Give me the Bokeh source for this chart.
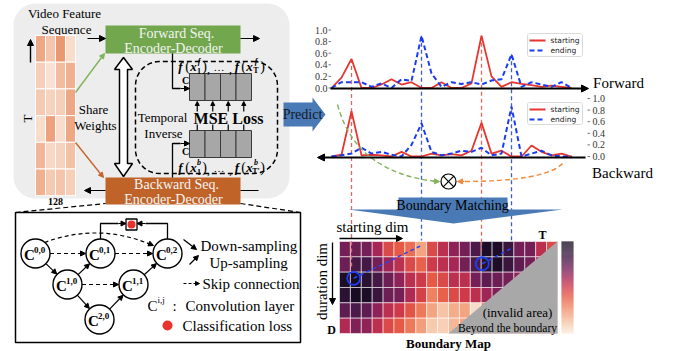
import numpy as np
from bokeh.plotting import figure
from bokeh.models import Range1d, Arrow, NormalHead, ColumnDataSource, LinearColorMapper
from bokeh.core.properties import value
from bokeh.embed import file_html
from bokeh.resources import INLINE

# ---------------- data ----------------
steps = list(range(25))
fwd_starting = [0, 0.18, 0.5, 0, 0, 0.06, 0.15, 0.06, 0.1, 0, 0, 0.1, 0, 0, 0.08,
                0.9, 0.2, 0.02, 0.1, 0.07, 0.05, 0.02, 0.04, 0.02, 0]
fwd_ending = [0, 0.1, 0.1, 0.1, 0.02, 0.08, 0.0, 0.15, 0.12, 0.9, 0.25, 0.02, 0.1,
              0.07, 0.1, 0.06, 0.13, 0.15, 0.58, 0.02, 0.1, 0.06, 0.02, 0.1, 0]
bwd_starting = [0, 0.03, 0.78, 0.02, 0.03, 0.02, 0.0, 0.08, 0.0, 0.0, 0.05, 0.02,
                0.04, 0.02, 0.1, 0.58, 0.05, 0.1, 0.0, 0.0, 0.19, 0.08, 0.02, 0.05, 0]
bwd_ending = [0, 0.02, 0.05, 0.15, 0.05, 0.08, 0.03, 0.0, 0.2, 0.57, 0.08, 0.02,
              0.05, 0.1, 0.08, 0.15, 0.02, 0.05, 0.86, 0.0, 0.05, 0.1, 0.02, 0.0, 0]
y_ticks = [0.0, 0.2, 0.4, 0.6, 0.8, 1.0]
y_tick_labels = ["0.0", "0.2", "0.4", "0.6", "0.8", "1.0"]

boundary_map = [
    [0.70, 0.72, 0.70, 0.60, 0.45, 0.40, 0.35, 0.20, 0.45, 0.55, 0.65, 0.70, 0.80, 0.95, 0.95, 0.85, 0.70, 0.70, 0.55, 0.45],
    [0.72, 0.82, 0.82, 0.70, 0.62, 0.55, 0.45, 0.38, 0.50, 0.55, 0.60, 0.70, 0.80, 0.90, 0.95, 0.85, 0.75, 0.70, 0.60, 0.50],
    [0.95, 0.97, 0.90, 0.82, 0.72, 0.65, 0.55, 0.50, 0.40, 0.45, 0.55, 0.55, 0.70, 0.75, 0.72, 0.70, 0.65, 0.60, 0.55, 0.50],
    [0.90, 0.97, 0.95, 0.85, 0.72, 0.70, 0.58, 0.48, 0.30, 0.38, 0.45, 0.50, 0.55, 0.62, 0.68, 0.65, 0.60, 0.55, 0.50, 0.45],
    [0.75, 0.80, 0.75, 0.65, 0.55, 0.50, 0.42, 0.32, 0.20, 0.12, 0.18, 0.20, 0.05, 0.30, 0.40, 0.45, 0.50, 0.50, 0.45, 0.40],
    [0.58, 0.68, 0.65, 0.55, 0.45, 0.40, 0.32, 0.22, 0.10, 0.08, 0.15, 0.20, 0.25, 0.30, 0.35, 0.40, 0.40, 0.40, 0.40, 0.40],
]
matched_cells = [(1.3, 2.4), (13.1, 1.45)]          # (starting col, duration row)
matched_targets = [(7.4, 0.3), (15.9, 0.4)]

video_features = [
    [0.70, 0.40, 0.85, 0.15],
    [0.30, 0.10, 0.50, 0.60],
    [0.35, 0.25, 0.30, 0.70],
    [0.15, 0.75, 0.15, 0.70],
    [0.55, 0.20, 0.25, 0.45],
    [0.60, 0.35, 0.40, 0.30],
]

# ---------------- helpers ----------------
SERIF = value("Liberation Serif")
SANS = value("DejaVu Sans")


def interp_palette(anchors, n=256):
    pos = np.array([a[0] for a in anchors])
    rgb = np.array([[int(a[1][i:i + 2], 16) for i in (1, 3, 5)] for a in anchors], float)
    out = []
    for t in np.linspace(0, 1, n):
        c = [np.interp(t, pos, rgb[:, k]) for k in range(3)]
        out.append("#%02x%02x%02x" % tuple(int(round(v)) for v in c))
    return out


rocket = interp_palette([
    (0.00, "#FAEBDD"), (0.10, "#F6C9AC"), (0.20, "#F3A582"), (0.30, "#EF8060"),
    (0.40, "#E65A45"), (0.50, "#CF3A4A"), (0.60, "#A82655"), (0.70, "#761F57"),
    (0.80, "#4B1A4B"), (0.90, "#2A1233"), (1.00, "#12091A")])
peach = interp_palette([(0.0, "#FBEBE1"), (0.5, "#F2BC9E"), (1.0, "#E8875E")])

W, H = 673, 351
p = figure(width=W, height=H, x_range=Range1d(0, W), y_range=Range1d(H, 0),
           output_backend="svg", toolbar_location=None, x_axis_location=None,
           y_axis_location=None, min_border=0, outline_line_color=None)
p.grid.visible = False

# scales: plot index -> px, values -> px, heatmap cells -> px
PX0, PXS = 331.0, 10.0
FY0, FYS = 87.5, 58.0
BY0, BYS = 156.0, 58.0
HX0, HXS = 339.0, 10.9
HY0, HYS = 241.0, 15.33
VX0, VXS = 35.0, 10.0
VY0, VYS = 35.0, 26.7
p.extra_x_ranges = {
    "px": Range1d((0 - PX0) / PXS, (W - PX0) / PXS),
    "hx": Range1d((0 - HX0) / HXS, (W - HX0) / HXS),
    "vx": Range1d((0 - VX0) / VXS, (W - VX0) / VXS),
}
p.extra_y_ranges = {
    "fy": Range1d((FY0 - H) / FYS, (FY0 - 0) / FYS),
    "by": Range1d((BY0 - H) / BYS, (BY0 - 0) / BYS),
    "hy": Range1d((H - HY0) / HYS, (0 - HY0) / HYS),
    "vy": Range1d((H - VY0) / VYS, (0 - VY0) / VYS),
}


def txt(x, y, s, size=13, font=SERIF, style="normal", color="black",
        align="center", baseline="middle", angle=0.0):
    p.text(x=[x], y=[y], text=[s], text_font=font, text_font_size=f"{size}px",
           text_font_style=style, text_color=color, text_align=align,
           text_baseline=baseline, angle=angle)


def arrow(x0, y0, x1, y1, color="black", w=1.2, size=6, dash="solid"):
    head = NormalHead(size=size, fill_color=color, line_color=color, line_width=1)
    p.add_layout(Arrow(end=head, x_start=x0, y_start=y0, x_end=x1, y_end=y1,
                       line_color=color, line_width=w, line_dash=dash))


def rrect(x0, y0, x1, y1, r, n=12):
    xs, ys = [], []
    for cx, cy, a0, a1 in [(x1 - r, y0 + r, -90, 0), (x1 - r, y1 - r, 0, 90),
                           (x0 + r, y1 - r, 90, 180), (x0 + r, y0 + r, 180, 270)]:
        for a in np.radians(np.linspace(a0, a1, n)):
            xs.append(cx + r * np.cos(a))
            ys.append(cy + r * np.sin(a))
    return xs, ys


# ---------------- left panel ----------------
gx, gy = rrect(13, 3, 289, 198, 22)
p.patch(gx, gy, fill_color="#EDEDED", line_color=None)

txt(64, 13, "Video Feature", 13)
txt(66, 29, "Sequence", 13)

# feature column
fsrc = ColumnDataSource(dict(
    x=[c + 0.5 for r in range(6) for c in range(4)],
    y=[r + 0.5 for r in range(6) for c in range(4)],
    v=[video_features[r][c] for r in range(6) for c in range(4)]))
fmap = LinearColorMapper(palette=peach, low=0, high=1)
p.rect(x="x", y="y", width=1, height=1, source=fsrc, x_range_name="vx", y_range_name="vy",
       fill_color={"field": "v", "transform": fmap}, line_color="white", line_width=1)
arrow(30, 62, 30, 39, size=6, w=1.4)
txt(27, 118, "T", 13, angle=np.pi / 2)
txt(55, 201, "128", 10, style="bold")

# encoder boxes
p.quad(left=105, right=240, top=25, bottom=53, fill_color="#72A74E", line_color=None)
txt(176, 33, "Forward Seq.", 14, color="#F4F4F4")
txt(173, 48, "Encoder-Decoder", 14, color="#F4F4F4")
p.quad(left=105, right=240, top=177, bottom=204, fill_color="#BF6328", line_color=None)
txt(176, 184, "Backward Seq.", 14, color="#F4F4F4")
txt(173, 199, "Encoder-Decoder", 14, color="#F4F4F4")
arrow(87, 38, 105, 38, size=6)
arrow(240, 38, 259, 38, size=6)
arrow(105, 190, 84, 190, size=6)
p.segment(x0=[240], y0=[190], x1=[258], y1=[190], line_color="black", line_width=1.2)
arrow(75, 92, 104, 53, color="#7FB45A", w=1.4, size=5)
arrow(75, 142, 103, 177, color="#C5642A", w=1.4, size=5)

# share weights hollow double arrow
p.patch([123, 114, 119, 119, 114, 123, 132, 127, 127, 132],
        [57, 69, 69, 163, 163, 176, 163, 163, 69, 69],
        fill_color="white", line_color="black", line_width=1.5)
txt(93, 109, "Share", 13)
txt(95, 125, "Weights", 13)

# temporal inverse dashed box
dx, dy = rrect(135, 61, 277, 173, 24)
p.patch(dx, dy, fill_alpha=0, line_color="black", line_width=1.5, line_dash="5 3")
txt(162, 117, "Temporal", 13)
txt(163, 133, "Inverse", 13)

cells = [189 + 15.5 * k for k in range(5)]
for top, bot in [(73, 100), (130, 157)]:
    p.quad(left=cells[:-1], right=cells[1:], top=[top] * 4, bottom=[bot] * 4,
           fill_color="#A7A7A7", line_color="#3A3A3A", line_width=1)
for k in range(4):
    cx = (cells[k] + cells[k + 1]) / 2
    arrow(cx, 111, cx, 101, size=4, w=1.2)
    p.segment(x0=[cx], y0=[124], x1=[cx], y1=[130], line_color="black", line_width=1.2)
txt(228, 118, "MSE Loss", 16, style="bold")

p.line([172, 172, 180], [53, 88, 88], line_color="black", line_width=1.3)
arrow(180, 88, 189, 88, size=5)
p.line([172, 172, 180], [177, 143, 143], line_color="black", line_width=1.3)
arrow(180, 143, 189, 143, size=5)
txt(185, 80, "C", 10, style="bold")
txt(185, 151, "C", 10, style="bold")


def fx_label(y, sup, sub2):
    items = [(180, y, "f", 13, "bold italic"), (187, y, "(", 14, "normal"),
             (193, y, "x", 13, "bold italic"), (198.5, y - 5, sup, 8, "bold italic"),
             (198.5, y + 4, "1", 8, "bold"), (204, y, ")", 14, "normal"),
             (208, y + 2, ",", 12, "normal"), (218.5, y, "…", 11, "normal"),
             (230, y + 2, ",", 12, "normal"), (236.5, y, "f", 13, "bold italic"),
             (243, y, "(", 14, "normal"), (249, y, "x", 13, "bold italic"),
             (255.5, y - 5, sup, 8, "bold italic"), (255.5, y + 4, sub2, 8, "bold"),
             (262, y, ")", 14, "normal")]
    for x, yy, s, sz, st in items:
        txt(x, yy, s, sz, style=st)


fx_label(66, "f", "T")
fx_label(167, "b", "T'")

# ---------------- bottom-left network box ----------------
p.segment(x0=[15, 240], y0=[212, 203], x1=[105, 300], y1=[203, 212],
          line_color="black", line_width=1.2, line_dash="5 3")
p.quad(left=15, right=300, top=212, bottom=342, fill_color="white", line_color="black", line_width=1.5)

nodes = {"0,0": (35, 253), "0,1": (100, 253), "0,2": (167, 253),
         "1,0": (67, 284), "1,1": (133, 284), "2,0": (99, 319)}
R = 14.5


def edge(a, b, dashed=False):
    (x0, y0), (x1, y1) = nodes[a], nodes[b]
    d = np.hypot(x1 - x0, y1 - y0)
    ux, uy = (x1 - x0) / d, (y1 - y0) / d
    arrow(x0 + ux * R, y0 + uy * R, x1 - ux * (R + 0.5), y1 - uy * (R + 0.5),
          size=5, w=1.2, dash="4 3" if dashed else "solid")


for a, b in [("0,0", "1,0"), ("1,0", "0,1"), ("1,0", "2,0"), ("2,0", "1,1"), ("1,1", "0,2")]:
    edge(a, b)
for a, b in [("0,0", "0,1"), ("0,1", "0,2"), ("1,0", "1,1")]:
    edge(a, b, dashed=True)
p.quadratic(x0=[44], y0=[242], x1=[150], y1=[244], cx=[98], cy=[222],
            line_color="black", line_width=1.2, line_dash="4 3")
arrow(147, 242.5, 153, 245, size=5, w=1.2)

p.circle(x=[v[0] for v in nodes.values()], y=[v[1] for v in nodes.values()], radius=R,
         fill_color="white", line_color="black", line_width=1.4)
for k, (cx, cy) in nodes.items():
    txt(cx - 6, cy + 1, "C", 15, style="bold")
    txt(cx - 1.5, cy - 4, k, 9, style="bold", align="left")

p.line([100, 100, 118], [238.5, 223, 223], line_color="black", line_width=1.3)
arrow(118, 223, 125.5, 223, size=5)
p.line([167, 167, 145], [238.5, 223, 223], line_color="black", line_width=1.3)
arrow(145, 223, 136.5, 223, size=5)
p.rect(x=[131], y=[224], width=11, height=11, fill_color="white", line_color="black", line_width=1.3)
p.scatter(x=[131], y=[224], size=8, fill_color="#E8322B", line_color=None)

arrow(183, 239, 196, 249, size=5, w=1.3)
txt(200, 245, "Down-sampling", 15, align="left")
arrow(189, 264, 198, 255, size=5, w=1.3)
txt(209, 262, "Up-sampling", 15, align="left")
arrow(183, 283, 199, 283, size=4, w=1.2, dash="3 2")
txt(202, 283, "Skip connection", 15, align="left")
txt(152, 305, "C", 15)
txt(157, 299, "i,j", 9, align="left")
txt(174, 305, ":", 15)
txt(185, 305, "Convolution layer", 15, align="left")
p.scatter(x=[167], y=[325], size=10, fill_color="#E8322B", line_color=None)
txt(182, 325, "Classification loss", 15, align="left")

# ---------------- predict arrow ----------------
p.patch([283, 312, 312, 325, 312, 312, 283], [102, 102, 97, 114, 131, 126, 126],
        fill_color="#4A7AB5", line_color=None)
txt(302, 114, "Predict", 14, color="#111827")

# ---------------- vertical guide lines ----------------
f_start_peaks = [int(np.argmax(fwd_starting[:8])), int(np.argmax(fwd_starting))]
f_end_peaks = [int(np.argmax(fwd_ending)), int(np.argmax(fwd_ending[12:])) + 12]
red_ends = [268, 250]
blue_ends = [240, 242]
for i, yend in zip(f_start_peaks, red_ends):
    p.segment(x0=[i], y0=[FY0 - FYS * fwd_starting[i]], x1=[i], y1=[yend], x_range_name="px",
              line_color="#E3675F", line_width=1.3, line_dash="4 3")
for i, yend in zip(f_end_peaks, blue_ends):
    p.segment(x0=[i], y0=[FY0 - FYS * fwd_ending[i]], x1=[i], y1=[yend], x_range_name="px",
              line_color="#3A58F2", line_width=1.3, line_dash="4 3")

# ---------------- forward / backward plots ----------------
RED, BLUE = "#E8352E", "#1A3CF0"
p.line(steps, fwd_starting, x_range_name="px", y_range_name="fy", line_color=RED, line_width=1.8)
p.line(steps, fwd_ending, x_range_name="px", y_range_name="fy", line_color=BLUE, line_width=2,
       line_dash="5 3")
p.line(steps, bwd_starting, x_range_name="px", y_range_name="by", line_color=RED, line_width=1.8)
p.line(steps, bwd_ending, x_range_name="px", y_range_name="by", line_color=BLUE, line_width=2,
       line_dash="5 3")

arrow(330, 88, 588, 88, size=7, w=2.2)
arrow(585, 157, 317, 157, size=7, w=2.2)

p.text(x=[327] * 6, y=y_ticks, text=y_tick_labels, y_range_name="fy", text_font=SERIF,
       text_font_size="10px", text_color="#333333", text_align="right", text_baseline="middle")
p.segment(x0=[328] * 6, y0=y_ticks, x1=[330.5] * 6, y1=y_ticks, y_range_name="fy",
          line_color="#555555", line_width=0.8)
p.text(x=[592] * 6, y=y_ticks, text=y_tick_labels, y_range_name="by", text_font=SERIF,
       text_font_size="10px", text_color="#333333", text_align="left", text_baseline="middle")
p.segment(x0=[587] * 6, y0=y_ticks, x1=[589.5] * 6, y1=y_ticks, y_range_name="by",
          line_color="#555555", line_width=0.8)

for top, bot in [(33, 56), (102, 124)]:
    lx, ly = rrect(527, top, 582, bot, 2, n=4)
    p.patch(lx, ly, fill_color="white", fill_alpha=0.85, line_color="#D0D0D0", line_width=0.8)
    y1 = top + 7
    y2 = top + 17
    p.segment(x0=[529], y0=[y1], x1=[545], y1=[y1], line_color=RED, line_width=1.8)
    p.segment(x0=[529], y0=[y2], x1=[545], y1=[y2], line_color=BLUE, line_width=2, line_dash="5 3")
    txt(550, y1, "starting", 7.5, font=SANS, align="left", color="#222222")
    txt(550, y2, "ending", 7.5, font=SANS, align="left", color="#222222")

txt(618, 82, "Forward", 15)
txt(622, 172, "Backward", 15)

# ---------------- boundary matching ----------------
p.quadratic(x0=[337], y0=[104], x1=[436], y1=[181], cx=[355], cy=[172],
            line_color="#85B25C", line_width=1.4, line_dash="5 3")
arrow(432, 180.8, 439, 181, color="#85B25C", size=5, w=1.4)
p.quadratic(x0=[562], y0=[163], x1=[460], y1=[181], cx=[545], cy=[181],
            line_color="#F08A3E", line_width=1.4, line_dash="5 3")
arrow(464, 180.9, 457, 181, color="#F08A3E", size=5, w=1.4)
p.circle(x=[448], y=[181], radius=7.5, fill_color="white", line_color="black", line_width=1.2)
p.segment(x0=[442.7, 442.7], y0=[175.7, 186.3], x1=[453.3, 453.3], y1=[186.3, 175.7],
          line_color="black", line_width=1.2)

p.patch([348, 562, 453], [209, 209, 223], fill_color="#4A7AB5", line_color=None)
p.quad(left=398, right=507, top=197, bottom=212, fill_color="#4A7AB5", line_color=None)
txt(452, 205, "Boundary Matching", 14)

# ---------------- boundary map ----------------
hsrc = ColumnDataSource(dict(
    x=[c + 0.5 for r in range(6) for c in range(20)],
    y=[r + 0.5 for r in range(6) for c in range(20)],
    v=[boundary_map[r][c] for r in range(6) for c in range(20)]))
hmap = LinearColorMapper(palette=rocket, low=0, high=1)
p.rect(x="x", y="y", width=1, height=1, source=hsrc, x_range_name="hx", y_range_name="hy",
       fill_color={"field": "v", "transform": hmap}, line_color="white", line_width=0.7,
       line_alpha=0.8)
p.patch([20, 20, 10], [0, 6, 6], x_range_name="hx", y_range_name="hy",
        fill_color="#A9A8A9", line_color=None)

# guide lines continuing into the map (drawn over the cells)
for i, yend in zip(f_start_peaks, red_ends):
    p.segment(x0=[i], y0=[241], x1=[i], y1=[yend], x_range_name="px",
              line_color="#E3675F", line_width=1.3, line_dash="4 3")

p.segment(x0=[c[0] for c in matched_cells], y0=[c[1] for c in matched_cells],
          x1=[t[0] for t in matched_targets], y1=[t[1] for t in matched_targets],
          x_range_name="hx", y_range_name="hy", line_color="#2644F0", line_width=1.5,
          line_dash="4 3")
p.scatter(x=[c[0] for c in matched_cells], y=[c[1] for c in matched_cells], size=13,
          x_range_name="hx", y_range_name="hy", fill_alpha=0, line_color="#1E3FF0",
          line_width=1.8)

# colour bar
nseg = 92
cb_top = [241 + k for k in range(nseg)]
p.quad(left=[561] * nseg, right=[573] * nseg, top=cb_top, bottom=[t + 1.05 for t in cb_top],
       fill_color=[rocket[int(round((1 - k / (nseg - 1)) * 255))] for k in range(nseg)],
       line_color=None)

txt(372, 226, "starting dim", 15)
arrow(339, 238, 402, 238, size=6, w=1.3)
txt(321, 281, "duration dim", 15, angle=np.pi / 2)
arrow(332, 242, 332, 304, size=6, w=1.3)
txt(542, 234, "T", 12, style="bold")
txt(331, 329, "D", 12, style="bold")
txt(517, 312, "(invalid area)", 13)
txt(507, 327, "Beyond the boundary", 11.5)
txt(448, 343, "Boundary Map", 13, style="bold")

open("out.html", "w").write(file_html(p, INLINE))
